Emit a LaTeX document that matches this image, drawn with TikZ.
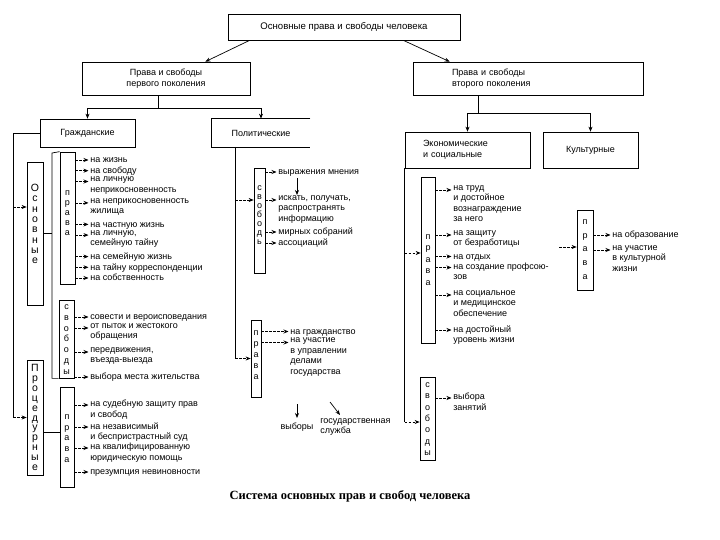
\documentclass[tikz,border=0pt]{standalone}
\usepackage{fontspec}
\setmainfont{Liberation Serif}
\setsansfont{Liberation Sans}
\usetikzlibrary{arrows.meta, calc, positioning}

\newcommand{\txtfont}{\sffamily\fontsize{9}{10.5}\selectfont}

\begin{document}
\begin{tikzpicture}[x=1pt, y=-1pt, line width=0.7pt,
  box/.style={draw, inner sep=0pt, font=\txtfont, align=center},
  lbox/.style={draw, inner sep=0pt},
  lett/.style={inner sep=0pt, align=center, font=\sffamily\fontsize{9}{#1}\selectfont},
  lett/.default=10.5,
  itm/.style={anchor=north west, inner sep=0pt, align=left, font=\txtfont, yshift=5pt, execute at begin node=\strut},
  arr/.style={-{Stealth[length=5pt, width=4pt]}},
  tick/.style={dash pattern=on 2.5pt off 1.5pt, -{Stealth[length=5pt, width=4pt]}}]
\useasboundingbox (0,0) rectangle (720,540);

% верхние блоки
\node[box, minimum width=232pt, minimum height=26pt, font=\sffamily\fontsize{9.6}{11}\selectfont] (top) at (344,27) {Основные права и свободы человека};
\node[box, minimum width=168pt, minimum height=33pt] (gen1) at (166,78.5) {Права и свободы\\первого поколения};
\node[box, minimum height=33pt, text width=152pt, inner xsep=39pt, align=left] (gen2) at (528,78.5) {Права и свободы\\второго поколения};

\node[box, minimum width=95pt, minimum height=28pt] (civ) at (87.5,133) {Гражданские};
\node[font=\txtfont, minimum width=98pt, minimum height=28pt, inner sep=0pt] (pol) at (261,133) {Политические};
\draw (pol.north east) -- (pol.north west) -- (pol.south west) -- (pol.south east);
\node[box, minimum height=36pt, text width=89pt, inner xsep=18pt, align=left] (econ) at (467.5,150) {Экономические\\и социальные};
\node[box, minimum width=95pt, minimum height=36pt] (cult) at (590.5,150) {Культурные};

\draw[arr] ([xshift=22pt]top.south west) -- ([xshift=-45pt]gen1.north east);
\draw[arr] ([xshift=-57pt]top.south east) -- ([xshift=37pt]gen2.north west);
\draw ([xshift=-8pt]gen1.south) -- ++(0,13) coordinate (j1);
\draw[arr] (j1) -| (civ.north);
\draw[arr] (j1) -| (pol.north);
\draw ([xshift=-50pt]gen2.south) -- ++(0,18) coordinate (j2);
\draw[arr] (j2) -| (econ.north);
\draw[arr] (j2) -| (cult.north);

% гражданские
\node[lbox, minimum width=16pt, minimum height=143pt] (osn) at (35,233.5) {};
\node[inner sep=0pt, align=center, font=\sffamily\fontsize{10.5}{10.3}\selectfont] (osnT) at (35,224) {О\\с\\н\\о\\в\\н\\ы\\е};
\node[lbox, minimum width=16pt, minimum height=115pt] (proc) at (35,417.5) {};
\node[inner sep=0pt, align=center, font=\sffamily\fontsize{10.5}{9.9}\selectfont] (procT) at (35,417.5) {П\\р\\о\\ц\\е\\д\\у\\р\\н\\ы\\е};
\node[lbox, minimum width=15pt, minimum height=132pt] (civR) at (67.5,218) {};
\node[lett=10] (civRT) at (67.5,213) {п\\р\\а\\в\\а};
\node[lbox, minimum width=15pt, minimum height=78pt] (civS) at (66.5,339) {};
\node[lett=10.8] (civST) at (66.5,339.5) {с\\в\\о\\б\\о\\д\\ы};
\node[lbox, minimum width=14pt, minimum height=100pt] (procR) at (67,437) {};
\node[lett=10.75] (procRT) at (67,438.5) {п\\р\\а\\в\\а};

\coordinate (cl) at (13,133);
\draw (civ.west) -- (cl) -- (cl |- proc.west);
\draw[tick] (cl |- 0,207) -- (osn.west |- 0,207);
\draw[tick] (cl |- proc.west) -- (proc.west);
\coordinate (br) at (52,153);
\draw (civR.north west) -- (br) -- (br |- civS.south west) -- (civS.south west);
\draw (osn.east) -- (osn.east -| br);
\draw (proc.east |- 0,432) -- (procR.west |- 0,432);

\foreach \n/\y/\t in {a1/160/{на жизнь}, a2/170.7/{на свободу}, a3/181.5/{на личную\\неприкосновенность},
    a4/202.9/{на неприкосновенность\\жилища}, a5/224.4/{на частную жизнь}, a6/235.1/{на личную,\\семейную тайну},
    a7/256.6/{на семейную жизнь}, a8/267.3/{на тайну корреспонденции}, a9/278/{на собственность}}{
  \node[itm] (\n) at (90,\y) {\t};
  \draw[tick, shorten >=1.5pt] (civR.east |- 0,\y) -- (\n.west |- 0,\y);
}
\foreach \n/\y/\t in {b1/317/{совести и вероисповедания}, b2/328/{от пыток и жестокого\\обращения},
    b3/352/{передвижения,\\въезда-выезда}, b4/377/{выбора места жительства}}{
  \node[itm] (\n) at (90,\y) {\t};
  \draw[tick, shorten >=1.5pt] (civS.east |- 0,\y) -- (\n.west |- 0,\y);
}
\foreach \n/\y/\t in {c1/405/{на судебную защиту прав\\и свобод}, c2/427/{на независимый\\и беспристрастный суд},
    c3/448/{на квалифицированную\\юридическую помощь}, c4/472/{презумпция невиновности}}{
  \node[itm] (\n) at (90,\y) {\t};
  \draw[tick, shorten >=1.5pt] (procR.east |- 0,\y) -- (\n.west |- 0,\y);
}

% политические
\node[lbox, minimum width=11pt, minimum height=105pt] (polS) at (259.5,220.5) {};
\node[lett=9] (polST) at (259.5,215) {с\\в\\о\\б\\о\\д\\ь};
\node[lbox, minimum width=10pt, minimum height=77pt] (polR) at (256,358.5) {};
\node[lett=11] (polRT) at (256,355) {п\\р\\а\\в\\а};

\coordinate (pl) at (235,147);
\draw (pl) -- (pl |- polR.west);
\draw[tick] (pl |- 0,200) -- (polS.west |- 0,200);
\draw[tick] (pl |- polR.west) -- (polR.west);

\foreach \n/\y/\t in {d1/172/{выражения мнения}, d2/200/{искать, получать,\\распространять\\информацию},
    d3/232/{мирных собраний}, d4/243/{ассоциаций}}{
  \node[itm] (\n) at (278,\y) {\t};
  \draw[tick, shorten >=1.5pt] (polS.east |- 0,\y) -- (\n.west |- 0,\y);
}
\draw[arr] (d1.south -| 297,0) -- (d2.north -| 297,0);
\foreach \n/\y/\t in {e1/331.5/{на гражданство}, e2/342.5/{на участие\\в управлении\\делами\\государства}}{
  \node[itm] (\n) at (290,\y) {\t};
  \draw[tick, shorten >=1.5pt] (polR.east |- 0,\y) -- (\n.west |- 0,\y);
}
\node[font=\txtfont, inner sep=0pt] (vyb) at (297,427) {выборы};
\node[itm] (gs) at (320,423) {государственная\\служба};
\draw[arr] (vyb.north |- 0,404) -- (vyb.north |- 0,418);
\draw[arr] ($(gs.north west)+(10,-16)$) -- ($(gs.north west)+(20,-3)$);

% экономические и социальные
\node[lbox, minimum width=14pt, minimum height=166pt] (econR) at (428,260) {};
\node[lett=11.5] (econRT) at (428,260) {п\\р\\а\\в\\а};
\node[lbox, minimum width=15pt, minimum height=83pt] (econS) at (427.5,418.5) {};
\node[lett=11.3] (econST) at (427.5,419) {с\\в\\о\\б\\о\\д\\ы};

\draw (econ.south west) -- (econ.south west |- 0,422);
\draw[tick] (econ.south west |- 0,253) -- (econR.west |- 0,253);
\draw[tick] (econ.south west |- 0,422) -- (econS.west |- 0,422);

\foreach \n/\y/\t in {f1/190/{на труд\\и достойное\\вознаграждение\\за него}, f2/235/{на защиту\\от безработицы},
    f3/256.5/{на отдых}, f4/267.5/{на создание профсою-\\зов}, f5/295/{на социальное\\и медицинское\\обеспечение},
    f6/330/{на достойный\\уровень жизни}}{
  \node[itm] (\n) at (453,\y) {\t};
  \draw[tick, shorten >=1.5pt] (econR.east |- 0,\y) -- (\n.west |- 0,\y);
}
\node[itm] (g1) at (453,398) {выбора\\занятий};
\draw[tick, shorten >=1.5pt] (econS.east |- 0,398) -- (g1.west |- 0,398);

% культурные
\node[lbox, minimum width=16pt, minimum height=80pt] (cultR) at (585,250) {};
\node[lett=13.75] (cultRT) at (585,249.5) {п\\р\\а\\в\\а};
\coordinate (ca) at (559,247);
\draw[tick] (ca) -- (cultR.west |- ca);
\foreach \n/\y/\t in {h1/235/{на образование}, h2/250/{на участие\\в культурной\\жизни}}{
  \node[itm] (\n) at (612,\y) {\t};
  \draw[tick, shorten >=1.5pt] (cultR.east |- 0,\y) -- (\n.west |- 0,\y);
}

\node[font=\bfseries\fontsize{12.5}{14}\selectfont] (cap) at (350,496) {Система основных прав и свобод человека};
\end{tikzpicture}
\end{document}
